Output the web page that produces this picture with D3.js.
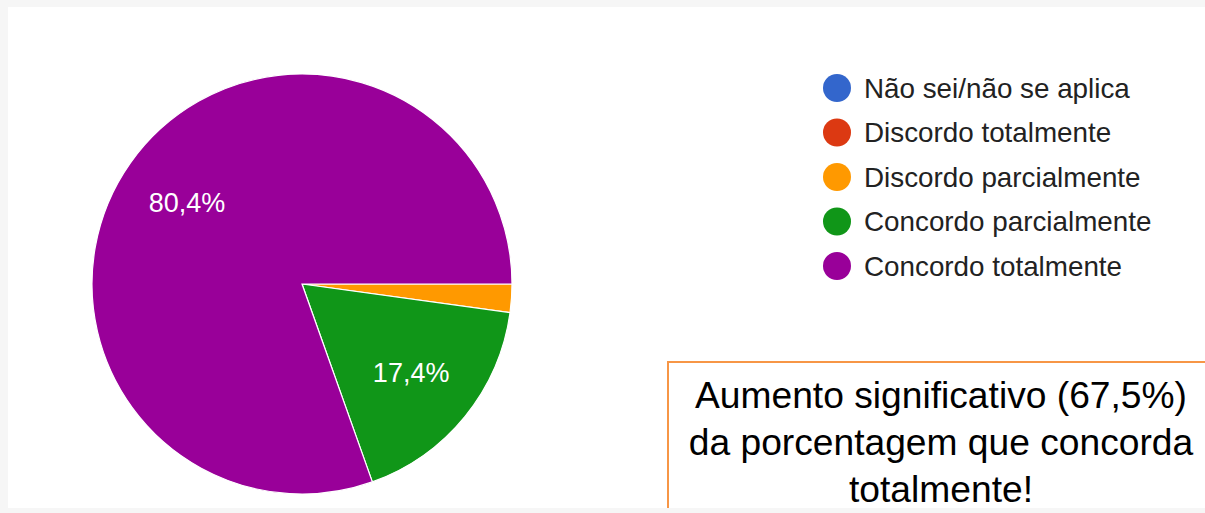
<html>
  <head>
    <meta charset="utf-8" />
    <script src="https://d3js.org/d3.v7.min.js"></script>
    <style>
      body {
        margin: 0;
        background: #f6f6f6;
        font-family: "Liberation Sans", Arial, sans-serif;
      }
    </style>
  </head>

  <body>
    <svg id="svg1" width="1205" height="513"></svg>

    <script>
      // answers (46 respostas) and their colours, Google Forms palette
      const categories = [
        "Não sei/não se aplica",
        "Discordo totalmente",
        "Discordo parcialmente",
        "Concordo parcialmente",
        "Concordo totalmente",
      ];
      const counts = [0, 0, 1, 8, 37];
      const colors = ["#3366cc", "#dc3912", "#ff9900", "#109618", "#990099"];
      const noteLines = [
        "Aumento significativo (67,5%)",
        "da porcentagem que concorda",
        "totalmente!",
      ];

      const svg = d3.select("svg#svg1");

      // white card on the light gray page
      svg
        .append("rect")
        .attr("x", 8)
        .attr("y", 7)
        .attr("width", 1197)
        .attr("height", 501)
        .attr("fill", "white");

      const data = categories.map((c, i) => ({ cat: c, n: counts[i], color: colors[i] }));
      const total = d3.sum(counts);

      const cx = 302,
        cy = 284,
        radius = 210;

      // slices start at 3 o'clock and run clockwise
      const pie = d3
        .pie()
        .value((d) => d.n)
        .sort(null)
        .startAngle(Math.PI / 2)
        .endAngle(Math.PI / 2 + 2 * Math.PI);

      const arc = d3.arc().innerRadius(0).outerRadius(radius);
      const labelArc = d3
        .arc()
        .innerRadius(radius * 0.67)
        .outerRadius(radius * 0.67);

      const chartArea = svg
        .append("g")
        .attr("id", "pie")
        .attr("transform", `translate(${cx},${cy})`);

      const arcs = pie(data).filter((a) => a.data.n > 0);

      chartArea
        .selectAll("path")
        .data(arcs)
        .join("path")
        .attr("d", arc)
        .attr("fill", (a) => a.data.color)
        .attr("stroke", "white")
        .attr("stroke-width", 1.2);

      const pctFormat = (v) => d3.format(".1f")(v).replace(".", ",") + "%";

      // only slices big enough get a label
      chartArea
        .selectAll("text")
        .data(arcs.filter((a) => a.data.n / total > 0.05))
        .join("text")
        .attr("transform", (a) => `translate(${labelArc.centroid(a)})`)
        .attr("text-anchor", "middle")
        .attr("dy", "0.35em")
        .attr("fill", "white")
        .attr("font-size", 27)
        .text((a) => pctFormat((a.data.n / total) * 100));

      // legend
      const legendY = d3
        .scalePoint()
        .domain(categories)
        .range([88, 266]);

      const legend = svg
        .append("g")
        .attr("id", "legend")
        .selectAll("g")
        .data(data)
        .join("g")
        .attr("transform", (d) => `translate(837,${legendY(d.cat)})`);

      legend
        .append("circle")
        .attr("r", 14)
        .attr("fill", (d) => d.color);

      legend
        .append("text")
        .attr("x", 27)
        .attr("dy", "0.35em")
        .attr("font-size", 27.8)
        .attr("fill", "#222")
        .text((d) => d.cat);

      // annotation box
      const note = svg.append("g").attr("id", "note");
      note
        .append("rect")
        .attr("x", 668)
        .attr("y", 362)
        .attr("width", 560)
        .attr("height", 170)
        .attr("fill", "white")
        .attr("stroke", "#f79646")
        .attr("stroke-width", 2);

      note
        .selectAll("text")
        .data(noteLines)
        .join("text")
        .attr("x", 941)
        .attr("y", (d, i) => 408 + i * 47)
        .attr("text-anchor", "middle")
        .attr("font-size", 37.2)
        .attr("fill", "black")
        .text((d) => d);

      // page strip at the bottom covers the box
      svg
        .append("rect")
        .attr("x", 0)
        .attr("y", 508)
        .attr("width", 1205)
        .attr("height", 5)
        .attr("fill", "#f6f6f6");
    </script>
  </body>
</html>
